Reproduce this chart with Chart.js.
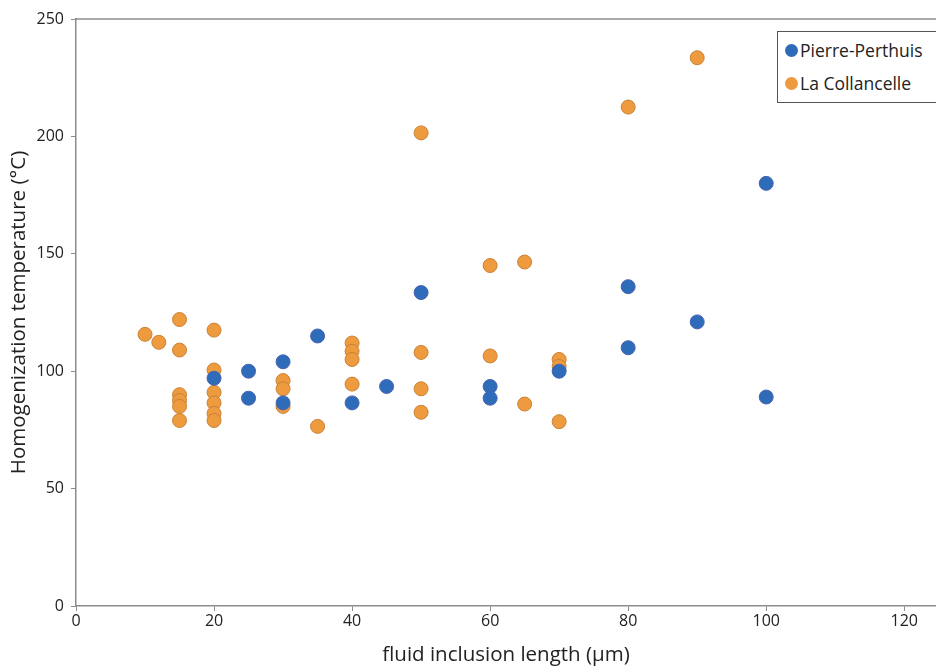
<!DOCTYPE html>
<html>
<head>
<meta charset="utf-8">
<script src="https://cdn.jsdelivr.net/npm/chart.js@4.4.1/dist/chart.umd.min.js"></script>
<style>
  body { margin: 0; background: #fff; }
  #wrap { position: relative; width: 936px; height: 667px; overflow: hidden; }
  #legend {
    position: absolute; left: 777px; top: 31px; width: 170px; height: 70px;
    border: 1px solid #555; background: #fff;
    font-family: "Open Sans", sans-serif; font-size: 17.5px; color: #222;
  }
  #legend .item { position: absolute; left: 7px; display: flex; align-items: center; }
  #legend .dot { width: 13px; height: 13px; border-radius: 50%; margin-right: 2px; }
</style>
</head>
<body>
<div id="wrap">
  <canvas id="canvas" width="936" height="667"></canvas>
  <div id="legend"></div>
</div>
<script>
// Pierre-Perthuis
var pierreX = [20, 25, 25, 30, 30, 35, 40, 45, 50, 60, 60, 70, 80, 80, 90, 100, 100];
var pierreY = [97, 100, 88.5, 104, 86.5, 115, 86.5, 93.5, 133.5, 93.5, 88.5, 100, 136, 110, 121, 180, 89];

// La Collancelle
var collX = [10, 12, 15, 15, 15, 15, 15, 15, 20, 20, 20, 20, 20, 20, 30, 30, 30, 35,
             40, 40, 40, 40, 50, 50, 50, 50, 60, 60, 65, 65, 70, 70, 70, 80, 90];
var collY = [115.7, 112.3, 122, 109, 90, 87.5, 85, 79, 117.5, 100.5, 91, 86.5, 82, 79, 96, 92.5, 85, 76.5,
             112, 108.5, 105, 94.5, 201.5, 108, 92.5, 82.5, 145, 106.5, 146.5, 86, 105, 102, 78.5, 212.5, 233.5];

var seriesNames = ['Pierre-Perthuis', 'La Collancelle'];
var seriesColors = ['#2e6bb8', '#ee9a3e'];
var seriesBorders = ['#4a62b0', '#c98236'];

var xTicks = [0, 20, 40, 60, 80, 100, 120];
var yTicks = [0, 50, 100, 150, 200, 250];

function toPoints(xs, ys) {
    var pts = [];
    for (var i = 0; i < xs.length; i++) pts.push({x: xs[i], y: ys[i]});
    return pts;
}

// line across the top of the plot
const topLine = {
    id: 'topLine',
    afterDraw(chart) {
        const c = chart.ctx, a = chart.chartArea;
        c.save();
        c.strokeStyle = '#8c8c8c';
        c.lineWidth = 1.5;
        c.beginPath();
        c.moveTo(a.left, a.top);
        c.lineTo(a.right, a.top);
        c.stroke();
        c.restore();
    }
};

var ctx = document.getElementById('canvas');
var myChart = new Chart(ctx, {
    type: 'scatter',
    data: {
        datasets: [{
            label: seriesNames[0],
            data: toPoints(pierreX, pierreY),
            backgroundColor: seriesColors[0],
            borderColor: seriesBorders[0],
            borderWidth: 1,
            pointRadius: 7
        }, {
            label: seriesNames[1],
            data: toPoints(collX, collY),
            backgroundColor: seriesColors[1],
            borderColor: seriesBorders[1],
            borderWidth: 1,
            pointRadius: 7
        }]
    },
    options: {
        responsive: false,
        animation: false,
        layout: { autoPadding: false, padding: { top: 19, right: 0, left: 0, bottom: 0 } },
        plugins: { legend: { display: false }, tooltip: { enabled: false } },
        scales: {
            x: {
                type: 'linear',
                min: 0,
                max: 124.6,
                afterFit: function(s) { s.height = 61; s.paddingRight = 0; s.paddingLeft = 0; },
                afterBuildTicks: function(s) { s.ticks = xTicks.map(v => ({value: v})); },
                ticks: { padding: 1, color: '#222', font: { family: 'Open Sans', size: 16 } },
                grid: { drawOnChartArea: false, tickLength: 5, color: '#8c8c8c' },
                border: { color: '#8c8c8c', width: 1.5 },
                title: {
                    display: true,
                    text: 'fluid inclusion length (µm)',
                    color: '#222',
                    font: { family: 'Open Sans', size: 20.5 },
                    padding: { top: 0, bottom: 0 }
                }
            },
            y: {
                min: 0,
                max: 250,
                afterFit: function(s) { s.width = 76; },
                afterBuildTicks: function(s) { s.ticks = yTicks.map(v => ({value: v})); },
                ticks: { padding: 7, color: '#222', font: { family: 'Open Sans', size: 16 } },
                grid: { drawOnChartArea: false, tickLength: 5, color: '#8c8c8c' },
                border: { color: '#8c8c8c', width: 1.5 },
                title: {
                    display: true,
                    text: 'Homogenization temperature (°C)',
                    color: '#222',
                    font: { family: 'Open Sans', size: 20.5 },
                    padding: { top: 7, bottom: 0 }
                }
            }
        }
    },
    plugins: [topLine]
});

// legend box inside the plot
var legend = document.getElementById('legend');
seriesNames.forEach(function(name, i) {
    var item = document.createElement('div');
    item.className = 'item';
    item.style.top = (6 + i * 33) + 'px';
    var dot = document.createElement('span');
    dot.className = 'dot';
    dot.style.background = seriesColors[i];
    var txt = document.createElement('span');
    txt.textContent = name;
    item.appendChild(dot);
    item.appendChild(txt);
    legend.appendChild(item);
});
</script>
</body>
</html>
